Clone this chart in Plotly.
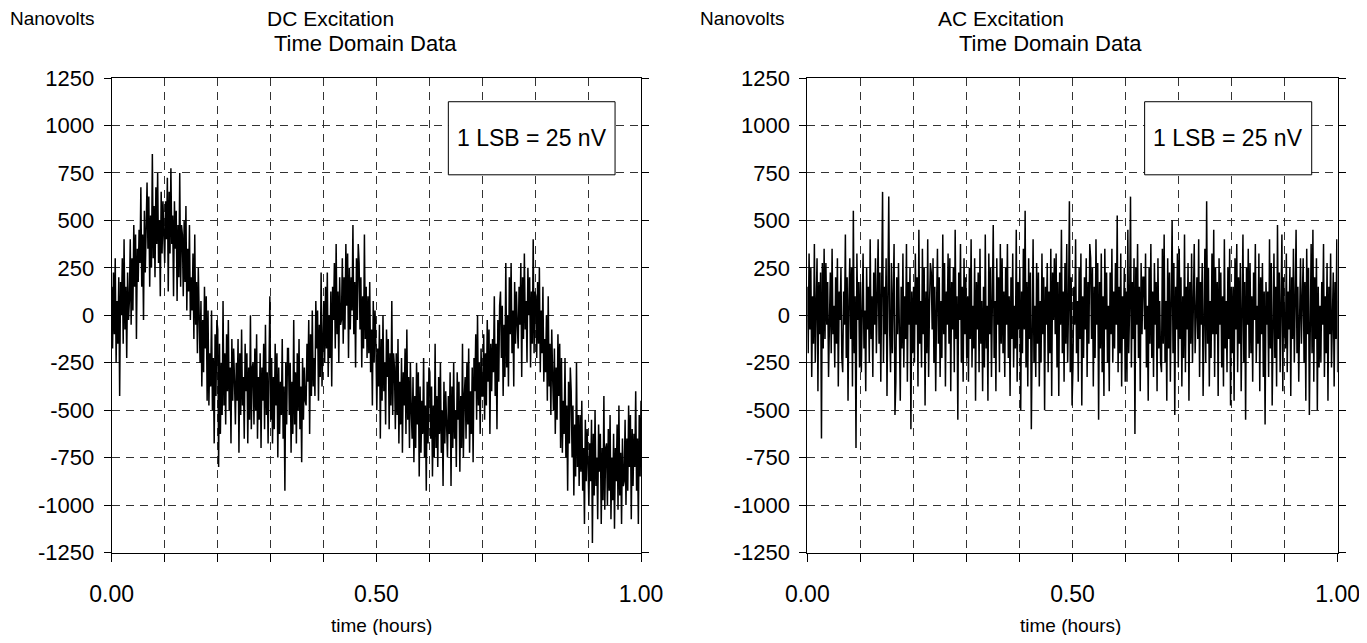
import plotly.graph_objects as go

# ---------------- data (quantised to 1 LSB = 25 nV) ----------------
dc_nv = [
    150, -175, 225, -100, 300, -250, 75, -150, 200, -425, 175, 0, 300, -150, 400, -75, 150, -225, 225, -25,
    75, 400, -50, 300, 25, 475, 150, 425, -125, 350, 175, 450, 275, 675, 150, 425, -25, 550, 225, 625,
    700, 350, 625, 150, 525, 250, 850, 300, 575, 200, 675, 375, 750, 275, 500, 100, 650, 325, 600, 425,
    275, 600, 400, 725, 125, 650, 325, 775, 375, 525, 100, 600, 350, 550, 75, 475, 200, 750, 150, 475,
    425, 100, 500, 175, 575, 25, 350, 125, 475, -25, 200, 25, 325, -125, 425, -50, 175, -200, 250, 0,
    -250, 75, -375, -25, -300, 150, -175, 100, -450, 25, -475, -200, -375, 25, -500, -225, -675, -100, -425, -25,
    -75, -800, -150, -625, -250, -525, 75, -475, -200, -575, -100, -400, -25, -500, -275, -675, -125, -450, -175, -350,
    -575, -250, -450, -125, -725, -200, -525, -75, -475, -325, -650, -150, -400, -200, -675, -275, -550, 0, -600, -275,
    -250, -575, -175, -500, -100, -650, -325, -550, -200, -700, -275, -450, -150, -600, -50, -525, -300, -675, -225, 100,
    -550, -225, -675, -325, -600, -150, -475, -200, -750, -275, -625, -350, -525, -125, -650, -375, -925, -250, -575, -175,
    -175, -525, -250, -725, -350, -625, -25, -575, -300, -675, -200, -500, -125, -600, -375, -775, -225, -550, -275, -450,
    -475, -150, -350, -25, -625, -100, -425, 25, -375, -225, -425, 75, -175, 25, -450, -50, -325, 225, -375, -50,
    75, -250, 150, -175, 225, -325, 0, -225, 125, -375, 150, -25, 275, -175, 375, -100, 125, -250, 200, -50,
    -25, 300, -150, 200, -75, 375, 50, 325, -225, 250, -75, 200, 25, 475, -100, 175, -275, 300, -25, 375,
    275, -75, 200, -275, 100, -175, 425, -125, 150, -225, 100, -200, 175, -300, -75, -475, 75, -250, 25, -150,
    -500, -175, -375, -50, -650, -125, -450, 0, -400, -250, -575, -75, -325, -125, -600, -200, -475, 75, -525, -200,
    -275, -600, -200, -525, -125, -675, -350, -575, -225, -725, -300, -475, -175, -625, -75, -550, -325, -700, -250, -500,
    -650, -325, -775, -425, -700, -250, -575, -300, -850, -375, -725, -450, -625, -225, -750, -475, -925, -350, -675, -275,
    -300, -650, -375, -850, -475, -750, -150, -700, -425, -800, -325, -625, -250, -725, -500, -900, -350, -675, -400, -575,
    -750, -425, -625, -300, -900, -375, -700, -250, -650, -500, -800, -300, -550, -350, -825, -425, -700, -150, -750, -425,
    -325, -650, -250, -575, -175, -725, -400, -625, -275, -775, -225, -400, -100, -550, 0, -475, -250, -625, -175, -425,
    -425, -100, -550, -200, -475, -25, -350, -75, -625, -150, -400, -125, -300, 100, -425, -150, -600, -25, -350, 50,
    125, -225, 50, -425, -50, -325, 275, -275, 0, -375, 200, -100, 275, -200, 25, -375, 175, -150, 125, -50,
    -175, 150, -50, 275, -325, 200, -125, 325, -75, 75, -250, 250, 0, 200, -275, 125, -150, 400, -200, 125,
    100, -225, 175, -150, 250, -300, 25, -200, 150, -350, -125, -300, 0, -450, 100, -375, -150, -525, -75, -325,
    -500, -175, -625, -275, -550, -100, -425, -150, -700, -225, -725, -450, -625, -225, -750, -475, -925, -350, -675, -275,
    -400, -750, -475, -950, -575, -850, -250, -800, -525, -900, -525, -825, -450, -925, -700, -1100, -550, -875, -600, -775,
    -1000, -675, -875, -550, -1200, -625, -950, -500, -900, -750, -1075, -575, -825, -625, -1100, -700, -975, -425, -1025, -700,
    -675, -1000, -600, -925, -525, -1075, -750, -975, -625, -1125, -700, -875, -575, -1025, -475, -950, -725, -1100, -650, -900,
    -875, -550, -1000, -650, -925, -475, -800, -525, -1075, -600, -900, -625, -800, -400, -925, -650, -1100, -525, -850, -450,
]

ac_nv = [
    150, -200, 325, -75, 250, -325, 100, -150, 375, -250, 50, 300, -400, 175, -100, 225, -650, 275, -175, 350,
    -125, 275, -50, 175, -325, 100, 225, -200, 350, -100, 50, -275, 200, -150, 300, -375, 125, -25, 250, -225,
    -300, 125, -50, 425, -225, 200, -450, 75, 300, -125, 250, -375, 550, -200, 100, -700, 325, -25, 175, -275,
    175, -300, 75, 325, -175, 25, -400, 250, -75, 150, -250, 400, -125, 100, -325, 225, -50, 300, -200, 50,
    400, -150, 225, -350, 50, 650, -250, 150, -100, 300, -425, 200, 625, -75, -300, 275, -200, 100, 375, -525,
    -350, 200, -100, 275, -25, -450, 150, -175, 325, -275, 100, -125, 375, -350, 175, -50, 250, -600, 125, -200,
    150, -250, 325, -50, 200, -375, 450, -150, 75, -275, 350, -100, 250, -475, 125, -200, 400, -325, 50, 275,
    225, -75, 300, -250, 150, -400, 50, 350, -150, 200, -325, 75, -225, 425, -100, 275, -375, 125, -50, 325,
    -150, 300, -400, 175, -75, 250, -300, 450, -125, 100, -550, 225, -25, 375, -250, 150, -350, 300, -100, 200,
    -225, 100, -350, 250, -125, 400, -275, 50, -175, 300, -450, 175, -75, 225, -300, 350, -150, 75, -400, 150,
    -275, 425, -175, 50, -450, 325, -100, 250, -325, 150, 475, -225, 75, -400, 300, -50, 200, -300, 375, -150,
    300, -200, 125, -325, 250, -50, 375, -225, 100, -425, 200, -125, 325, -275, 50, -175, 450, -350, 175, -75,
    250, -500, 125, -200, 350, -75, 550, -275, 175, -375, 300, -125, 225, -600, 100, 400, -250, 50, -325, 275,
    -150, 225, -375, 75, -250, 325, -100, 200, -500, 150, -50, 275, -300, 125, -200, 350, -425, 225, -25, 300,
    -100, 325, -275, 175, -425, 225, -50, 450, -200, 125, -350, 275, -150, 375, -250, 50, 600, -300, 200, -475,
    -275, 150, -50, 400, -200, 75, -350, 250, -125, 325, -475, 100, -225, 200, -75, 300, -325, 175, -150, 375,
    300, -125, 250, -375, 150, -225, 400, -50, 275, -550, 175, -175, 325, -300, 100, -425, 350, -75, 225, -250,
    50, -400, 225, -100, 350, -250, 125, -175, 275, -50, 525, -300, 150, -200, 325, -375, 100, -125, 250, -350,
    125, -350, 450, -200, 50, 625, -275, 175, -125, 300, -625, 250, -50, 375, -225, 150, -400, 275, -100, 200,
    200, -75, 325, -275, 50, -450, 250, -150, 375, -225, 125, -325, 275, -50, 175, -400, 300, -175, 75, -250,
    -300, 350, -150, 425, -250, 75, -450, 300, -175, 225, -350, 125, 500, -200, 275, -525, 150, -75, 325, -275,
    350, -125, 200, -375, 100, -225, 425, -300, 150, -75, 275, -450, 175, -150, 325, -250, 50, 375, -200, 125,
    200, -125, 400, -325, 175, -50, 275, -425, 125, 350, -250, 600, -150, 250, -375, 75, -225, 325, -100, 450,
    -325, 250, -100, 175, -425, 300, -50, 225, -275, 100, -375, 400, -175, 75, -300, 250, -125, 350, -475, 150,
    -200, 150, -450, 300, -75, 375, -300, 200, -150, 275, -400, 100, 425, -250, 175, -550, 250, -50, 350, -225,
    275, -200, 100, -350, 225, -25, 375, -250, 50, -150, 325, -400, 200, -100, 275, -325, 125, -575, 175, -50,
    125, -325, 400, -175, 275, -475, 50, 325, -225, 150, -375, 475, -125, 225, -300, 100, 425, -400, 200, -75,
    -175, 325, -300, 125, -75, 250, -425, 200, -125, 350, -250, 75, 450, -200, 150, -350, 25, 300, -150, 225,
    300, -250, 175, -450, 350, -100, 250, -525, 125, 375, -200, 450, -350, 200, -125, 300, -500, 150, -275, 50,
    -250, 175, -50, 375, -325, 100, -200, 275, -450, 150, -100, 325, -275, 50, 225, -375, 175, -125, 400, -300,
]

dc_hours = [i / (len(dc_nv) - 1) for i in range(len(dc_nv))]
ac_hours = [i / (len(ac_nv) - 1) for i in range(len(ac_nv))]

y_ticks = [-1250, -1000, -750, -500, -250, 0, 250, 500, 750, 1000, 1250]
y_tick_text = ["-1250", "-1000", "-750", "-500", "-250", "0", "250", "500", "750", "1000", "1250"]
x_ticks = [0.0, 0.1, 0.2, 0.3, 0.4, 0.5, 0.6, 0.7, 0.8, 0.9, 1.0]
x_tick_text = ["0.00", "", "", "", "", "0.50", "", "", "", "", "1.00"]
title_line1 = ["DC Excitation", "AC Excitation"]
title_line2 = "Time Domain Data"
y_unit = "Nanovolts"
x_label = "time (hours)"
lsb_text = "1 LSB = 25 nV"

# ---------------- figure ----------------
# The page body has an 8 px default margin, so the figure is drawn 8 px in from
# the window's top-left corner; window coordinates are converted below.
OFF = 8
W, H = 1367 - OFF, 643 - 2 * OFF
FONT = "Liberation Sans, Arial, Helvetica, sans-serif"


def px(x):
    return (x - OFF) / W


def py(y):
    return 1 - (y - OFF) / H


fig = go.Figure()
fig.add_trace(go.Scatter(x=dc_hours, y=dc_nv, mode="lines",
                         line=dict(color="black", width=1.5), xaxis="x", yaxis="y",
                         showlegend=False, hoverinfo="skip"))
fig.add_trace(go.Scatter(x=ac_hours, y=ac_nv, mode="lines",
                         line=dict(color="black", width=1.5), xaxis="x2", yaxis="y2",
                         showlegend=False, hoverinfo="skip"))

ydom = [py(552.5), py(78)]
xdom1 = [px(111.7), px(641.0)]
xdom2 = [px(807.3), px(1337.7)]

GRID = dict(showgrid=True, gridcolor="#333333", gridwidth=1, griddash="8px,6px")


def xax(dom, anchor):
    return dict(domain=dom, anchor=anchor, range=[0, 1], tickmode="array",
                tickvals=x_ticks, ticktext=x_tick_text, ticks="outside", ticklen=8,
                tickcolor="black", showline=True, linecolor="black", linewidth=1,
                mirror=True, zeroline=False, automargin=False,
                tickfont=dict(size=23), ticklabelstandoff=13,
                fixedrange=True, **GRID)


def yax(anchor):
    return dict(domain=ydom, anchor=anchor, range=[-1250, 1250], tickmode="array",
                tickvals=y_ticks, ticktext=y_tick_text, ticks="outside", ticklen=7,
                tickcolor="black", showline=True, linecolor="black", linewidth=1,
                mirror="ticks", zeroline=False, automargin=False, tickfont=dict(size=22),
                ticklabelstandoff=5, fixedrange=True, **GRID)


fig.update_layout(
    width=W, height=H, autosize=False,
    margin=dict(l=0, r=0, t=0, b=0, pad=0),
    paper_bgcolor="white", plot_bgcolor="white",
    font=dict(family=FONT, color="black", size=20),
    xaxis=xax(xdom1, "y"), yaxis=yax("x"),
    xaxis2=xax(xdom2, "y2"), yaxis2=yax("x2"),
)

anns = []
panels = [
    dict(unit_x=8, t1_x=330, t2_x=365, xl_x=381, xr="x", yr="y", t1=title_line1[0]),
    dict(unit_x=698, t1_x=1001, t2_x=1050, xl_x=1070, xr="x2", yr="y2", t1=title_line1[1]),
]
for p in panels:
    anns.append(dict(x=px(p["unit_x"]), y=py(18), xref="paper", yref="paper", text=y_unit,
                     showarrow=False, xanchor="left", yanchor="middle", font=dict(size=19)))
    anns.append(dict(x=px(p["t1_x"]), y=py(18), xref="paper", yref="paper", text=p["t1"],
                     showarrow=False, xanchor="center", yanchor="middle", font=dict(size=21)))
    anns.append(dict(x=px(p["t2_x"]), y=py(43), xref="paper", yref="paper", text=title_line2,
                     showarrow=False, xanchor="center", yanchor="middle", font=dict(size=22)))
    anns.append(dict(x=px(p["xl_x"]), y=py(625), xref="paper", yref="paper", text=x_label,
                     showarrow=False, xanchor="center", yanchor="middle", font=dict(size=19)))
    anns.append(dict(x=0.7935, y=932, xref=p["xr"], yref=p["yr"], text=lsb_text, showarrow=False,
                     xanchor="center", yanchor="middle", font=dict(size=23)))
fig.update_layout(annotations=anns)

shapes = []
for p in panels:
    shapes.append(dict(type="rect", xref=p["xr"], yref=p["yr"], x0=0.636, x1=0.951, y0=740, y1=1125,
                       line=dict(color="black", width=1), fillcolor="white", layer="above"))
fig.update_layout(shapes=shapes)

fig.write_html("out.html")
